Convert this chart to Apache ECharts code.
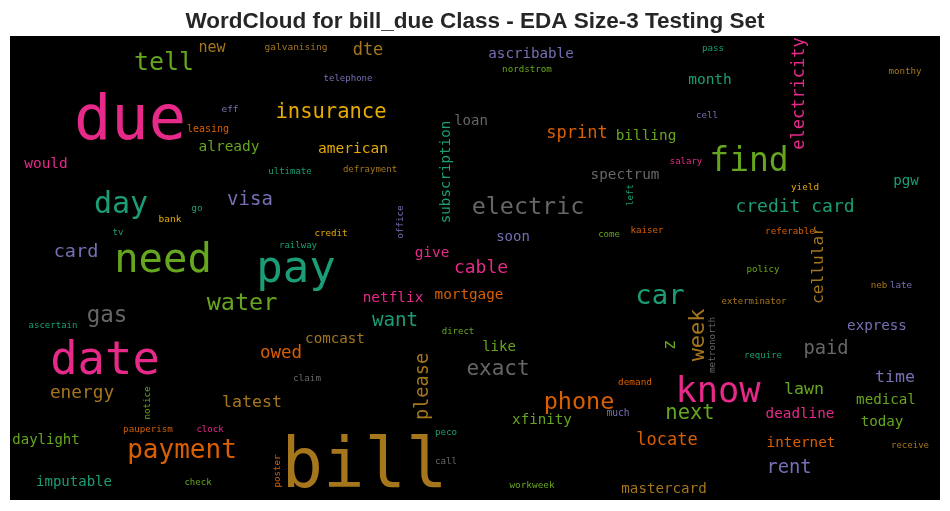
<!DOCTYPE html>
<html><head><meta charset="utf-8">
<script src="https://cdn.jsdelivr.net/npm/echarts@6/dist/echarts.min.js"></script>
<style>html,body{margin:0;padding:0;background:#fff}#c{width:950px;height:511px}</style>
</head><body><div id="c"></div>
<script>
// Dark2 palette used by the word cloud
const palette = ['#1b9e77','#d95f02','#7570b3','#e7298a','#66a61e','#e6ab02','#a6761d','#666666'];

const words = ['due','tell','new','eff','leasing','already','would','day','visa','card',
 'need','bank','go','tv','galvanising','dte','telephone','insurance','american','ultimate',
 'defrayment','subscription','credit','railway','office','give','pay','cable','ascribable','nordstrom',
 'loan','sprint','billing','salary','spectrum','electric','left','soon','come','kaiser',
 'pass','month','cell','electricity','find','monthy','pgw','yield','credit card','referable',
 'cellular','policy','neb','late','exterminator','express','paid','metronorth','require','time',
 'know','lawn','medical','deadline','today','internet','receive','rent','next','car',
 'mortgage','week','z','like','exact','demand','phone','much','xfinity','locate',
 'workweek','mastercard','netflix','direct','water','want','comcast','owed','please','claim',
 'latest','bill','peco','call','poster','gas','ascertain','date','energy','notice',
 'pauperism','clock','daylight','payment','imputable','check'];

// word centre positions in cloud coordinates (0..930 across, 0..464 down)
const xPos = [120,154,202,220,198,219,36,111,240,66,
 153,160,187,108,286,358,338,321,343,280,
 360,436,321,288,391,422,286,471,521,517,
 461,567,636,676,615,518,621,503,599,637,
 703,700,697,789.5,739,895,896,795,785,780,
 808.5,753,869,891,744,867,816,703,753,885,
 708,794,876,790,872,791,900,779,680,650,
 459,688,661,489,488,625,569,608,532,657,
 522,654,383,448,232,385,325,271,413.5,297,
 242,354.5,436,436,268,97,43,95,72,138,
 138,200,36,172,64,188];
const yPos = [86.5,27,12.5,73.5,93.5,111.5,128.5,169.5,164.5,216.5,
 225.5,183.5,172.5,196.5,11.5,14.5,42.5,76.5,113.5,135.5,
 133.5,136,197.5,209.5,186,217.5,234.5,232,18.5,33.5,
 85.5,97.5,100.5,125.5,139.5,171.5,159,201.5,198.5,194.5,
 12.5,44.5,79.5,57.5,126,35.5,145.5,151.5,171.5,195.5,
 229,233.5,249.5,249.5,265.5,290,313.5,309,319.5,341.5,
 357,354,364.5,378.5,386.5,407.5,409.5,432.5,378,261,
 259.5,299,309,311.5,334,346.5,367,377.5,384.5,404.5,
 449.5,453.5,262.5,295.5,268,285.5,303.5,317.5,350.5,342.5,
 366.5,433,396.5,425.5,435,280.5,289.5,326,357.5,367,
 393.5,393.5,404.5,415.5,446.5,446.5];
// word weight (rendered size)
const weights = [62,25,15,9.5,10,14.5,14.5,30,19,18.5,
 40.5,9.5,9.5,9,9.5,17,9,20.5,14.5,9,
 9,14.2,9.2,9,9.2,14.4,44,18,14.2,9.2,
 14,17,14.4,9,14.3,23.4,9.2,14,9,9.2,
 9.2,14.5,9.2,17,33,9.2,14.2,9.3,18,9.2,
 16.2,9.2,9.2,9.2,9,14.2,18.8,9.3,9,16.6,
 35.4,16.6,14.2,14.3,14.2,14.3,9,18.8,20.5,27.3,
 14.3,21.9,17,14,21,9.4,23.5,9.6,14.2,17,
 9.4,14.2,14.4,9,23.5,19.2,14.2,17.5,18.6,9.3,
 16.6,69,9.2,9.2,9.2,22.5,9,45.5,17.8,9.2,
 9.2,9,14,26,14,9];
const colorIdx = [3,4,6,2,1,4,3,0,2,2,
 4,5,0,0,6,6,2,5,5,0,
 6,0,5,0,2,3,0,3,2,4,
 7,1,4,3,7,7,0,2,4,1,
 0,0,2,3,4,6,0,5,0,1,
 6,4,6,2,6,2,7,7,0,2,
 3,4,4,3,4,1,6,2,4,0,
 1,6,4,4,7,1,1,2,4,1,
 4,6,3,4,4,0,6,1,6,7,
 6,6,0,7,1,7,0,3,6,4,
 1,3,4,1,0,4];
const verticalWords = ['subscription','office','left','electricity','cellular','metronorth','week','z','please','poster','notice'];

const data = words.map((w, i) => ({
  name: w,
  value: [xPos[i], yPos[i]],
  label: {
    fontSize: weights[i],
    color: palette[colorIdx[i]],
    rotate: verticalWords.indexOf(w) >= 0 ? 90 : 0
  }
}));

const chart = echarts.init(document.getElementById('c'), null, {renderer: 'canvas'});
chart.setOption({
  animation: false,
  backgroundColor: '#ffffff',
  title: {
    text: 'WordCloud for bill_due Class - EDA Size-3 Testing Set',
    left: 'center',
    top: 5,
    textStyle: {fontFamily: 'Liberation Sans', fontWeight: 'bold', fontSize: 22.5, color: '#262626'}
  },
  grid: {left: 10, top: 36, width: 930, height: 464, show: true, backgroundColor: '#000000', borderWidth: 0},
  xAxis: {type: 'value', min: 0, max: 930, show: false},
  yAxis: {type: 'value', min: 0, max: 464, inverse: true, show: false},
  series: [{
    type: 'scatter',
    symbolSize: 1,
    itemStyle: {color: 'rgba(0,0,0,0)', opacity: 1},
    silent: true,
    label: {
      show: true,
      position: 'inside',
      formatter: '{b}',
      fontFamily: 'DejaVu Sans Mono',
      align: 'center',
      verticalAlign: 'middle',
      opacity: 1
    },
    labelLayout: {hideOverlap: false},
    data: data
  }]
});
</script></body></html>
